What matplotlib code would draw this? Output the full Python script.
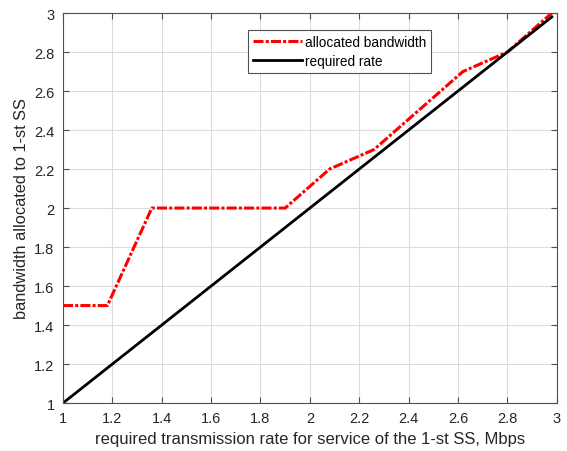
import matplotlib
matplotlib.use('Agg')
import matplotlib.pyplot as plt

# data
rate = [1.0, 1.18, 1.36, 1.54, 1.72, 1.90, 2.08, 2.26, 2.44, 2.62, 2.80, 2.98]
allocated = [1.5, 1.5, 2.0, 2.0, 2.0, 2.0, 2.2, 2.3, 2.5, 2.7, 2.8, 3.0]
required = rate

plt.rcParams['font.family'] = ['Liberation Sans', 'DejaVu Sans']

fig = plt.figure(figsize=(5.67, 4.52), dpi=100)
ax = fig.add_axes([0.111, 0.106, 0.871, 0.863])

red, = ax.plot(rate, allocated, color='red', linewidth=2.2, label='allocated bandwidth')
red.set_dashes([3.3, 0.7, 1.0, 0.7])
red.set_dash_capstyle('butt')
ax.plot(rate, required, color='black', linestyle='-', linewidth=2.0, label='required rate')

ticks = [1, 1.2, 1.4, 1.6, 1.8, 2, 2.2, 2.4, 2.6, 2.8, 3]
tick_labels = ['1', '1.2', '1.4', '1.6', '1.8', '2', '2.2', '2.4', '2.6', '2.8', '3']
ax.set_xlim(1, 3)
ax.set_ylim(1, 3)
ax.set_xticks(ticks)
ax.set_xticklabels(tick_labels)
ax.set_yticks(ticks)
ax.set_yticklabels(tick_labels)
ax.grid(True, color='#dcdcdc', linewidth=0.8)
ax.set_axisbelow(True)
ax.tick_params(direction='in', top=True, right=True, length=4, colors='#505050',
               labelsize=10.5, labelcolor='#262626', pad=6)
for s in ax.spines.values():
    s.set_color('#505050')
    s.set_linewidth(0.8)

ax.set_xlabel('required transmission rate for service of the 1-st SS, Mbps', fontsize=12, color='#262626')
ax.set_ylabel('bandwidth allocated to 1-st SS', fontsize=11.8, color='#262626')

leg = ax.legend(loc='upper left', bbox_to_anchor=(0.361, 0.973), fontsize=9.8,
                fancybox=False, framealpha=1, edgecolor='#505050',
                handlelength=3.6, handletextpad=0.25, borderpad=0.35, labelspacing=0.35)
leg.get_frame().set_linewidth(0.8)

fig.savefig('out.png', dpi=100)
